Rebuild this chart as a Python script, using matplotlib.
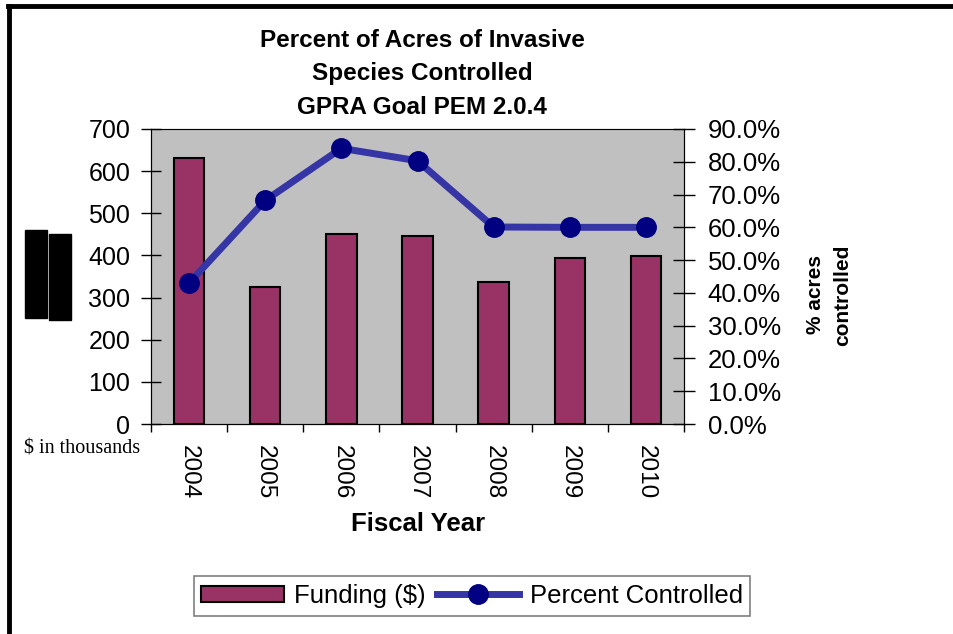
import matplotlib
matplotlib.use('Agg')
import matplotlib.pyplot as plt
import numpy as np
from matplotlib.lines import Line2D
from matplotlib.patches import Rectangle

years = ['2004', '2005', '2006', '2007', '2008', '2009', '2010']
funding = [632, 324, 452, 447, 337, 395, 399]
percent = [43.0, 68.2, 84.1, 80.3, 60.1, 60.0, 60.0]

plt.rcParams['font.family'] = ['Liberation Sans', 'DejaVu Sans']

fig = plt.figure(figsize=(9.54, 6.34), dpi=100)
ax = fig.add_axes([151 / 954, 1 - 424 / 634, (684 - 151) / 954, (424 - 129) / 634])
ax.set_facecolor('#c0c0c0')

x = np.arange(len(years))
ax.bar(x, funding, width=0.4, color='#993366', edgecolor='black', linewidth=1.5, zorder=2)
ax.set_xlim(-0.5, len(years) - 0.5)
ax.set_ylim(0, 700)
ax.set_yticks(range(0, 701, 100))
ax.tick_params(axis='y', direction='inout', length=14, width=1, labelsize=18, pad=8)

ax.set_xticks(x)
ax.set_xticklabels(years, rotation=270, fontsize=17.5)
ax.tick_params(axis='x', which='major', length=0, pad=15)
ax.set_xticks(np.arange(-0.5, len(years)), minor=True)
ax.tick_params(axis='x', which='minor', direction='out', length=6, width=1)

for side in ['left', 'bottom', 'right']:
    ax.spines[side].set_color('black')
ax.spines['top'].set_color('#808080')

ax2 = ax.twinx()
ax2.plot(x, percent, color='#3535a5', linewidth=5, marker='o', markersize=14,
         markerfacecolor='#000080', markeredgecolor='#000080', zorder=3)
ax2.set_ylim(0, 90)
ax2.set_yticks(range(0, 91, 10))
ax2.set_yticklabels([f'{v:.1f}%' for v in range(0, 91, 10)])
ax2.tick_params(axis='y', direction='inout', length=16, width=1, labelsize=18.5, pad=9)

fig.text(422 / 954, 1 - 29 / 634, 'Percent of Acres of Invasive\nSpecies Controlled\nGPRA Goal PEM 2.0.4',
         ha='center', va='top', fontsize=17.5, fontweight='bold', linespacing=1.58)
fig.text(418 / 954, 1 - 524 / 634, 'Fiscal Year', ha='center', va='center', fontsize=18.5, fontweight='bold')
fig.text(829 / 954, 1 - 295 / 634, '% acres\ncontrolled', ha='center', va='center', rotation=90,
         fontsize=15, fontweight='bold', linespacing=1.5)
fig.text(82 / 954, 1 - 449 / 634, '$ in thousands', ha='center', va='center', fontsize=14.5,
         family=['Liberation Serif', 'DejaVu Serif'])

# two black blocks left of the axis
fig.add_artist(Rectangle((25 / 954, 1 - 318 / 634), 22 / 954, 88 / 634, transform=fig.transFigure,
                         color='black'))
fig.add_artist(Rectangle((49 / 954, 1 - 320 / 634), 22 / 954, 86 / 634, transform=fig.transFigure,
                         color='black'))

# frame lines (left and top)
fig.add_artist(Line2D([9.5 / 954, 9.5 / 954], [0, 1 - 6 / 634], color='black', linewidth=3.5,
                      transform=fig.transFigure))
fig.add_artist(Line2D([8 / 954, 1], [1 - 6 / 634, 1 - 6 / 634], color='black', linewidth=3.5,
                      transform=fig.transFigure))

h_bar = Rectangle((0, 0), 1, 1, facecolor='#993366', edgecolor='black', linewidth=1.5)
h_line = Line2D([], [], color='#3535a5', linewidth=5, marker='o', markersize=14,
                markerfacecolor='#000080', markeredgecolor='#000080')
leg = fig.legend([h_bar, h_line], ['Funding ($)', 'Percent Controlled'], ncol=2,
                 loc='center', bbox_to_anchor=(472 / 954, 1 - 596 / 634), fontsize=18.5,
                 fancybox=False, edgecolor='#808080', framealpha=1, handlelength=3.2,
                 handleheight=0.6, handletextpad=0.4, columnspacing=0.45, borderpad=0.3,
                 borderaxespad=0)
leg.get_frame().set_linewidth(1.2)

fig.savefig('out.png', dpi=100)
